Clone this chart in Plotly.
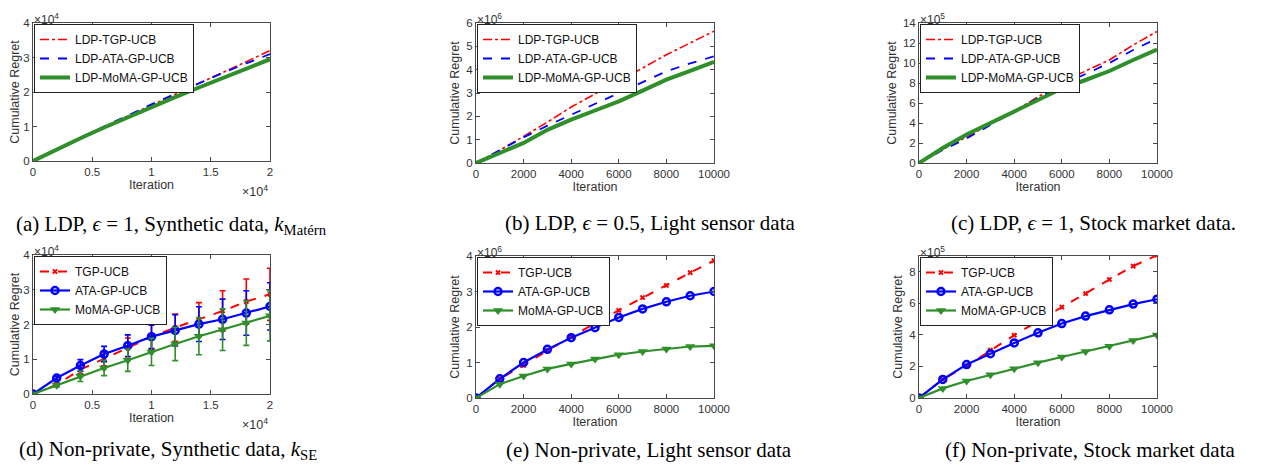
import plotly.graph_objects as go

# page body adds an 8px margin; figure is sized so it fits the 1270x470 window
OFF = 8
W, H = 1270 - 2 * OFF, 470 - 2 * OFF

# ---------------- data ----------------
iter_syn = [0, 2000, 4000, 6000, 8000, 10000, 12000, 14000, 16000, 18000, 20000]
iter_real = [0, 1000, 2000, 3000, 4000, 5000, 6000, 7000, 8000, 9000, 10000]

# (a) LDP, synthetic (x1e4)
a_tgp = [0, 0.34, 0.67, 0.99, 1.31, 1.63, 1.94, 2.25, 2.56, 2.87, 3.20]
a_ata = [0, 0.345, 0.68, 1.00, 1.325, 1.64, 1.95, 2.26, 2.55, 2.83, 3.10]
a_moma = [0, 0.34, 0.66, 0.97, 1.27, 1.56, 1.85, 2.13, 2.41, 2.68, 2.95]

# (b) LDP, light sensor (x1e6)
b_tgp = [0, 0.55, 1.14, 1.75, 2.40, 2.95, 3.50, 4.07, 4.64, 5.15, 5.65]
b_ata = [0, 0.55, 1.10, 1.60, 2.07, 2.55, 3.00, 3.47, 3.93, 4.27, 4.57]
b_moma = [0, 0.45, 0.86, 1.42, 1.86, 2.25, 2.64, 3.10, 3.57, 3.95, 4.33]

# (c) LDP, stock market (x1e5)
c_tgp = [0, 1.35, 2.60, 3.90, 5.20, 6.60, 8.05, 9.20, 10.30, 11.80, 13.15]
c_ata = [0, 1.30, 2.45, 3.80, 5.20, 6.50, 7.80, 8.90, 10.00, 11.30, 12.45]
c_moma = [0, 1.50, 2.85, 4.00, 5.20, 6.40, 7.45, 8.30, 9.20, 10.30, 11.35]

# (d) Non-private, synthetic (x1e4) with error bars
d_tgp = [0, 0.27, 0.70, 1.01, 1.32, 1.64, 1.91, 2.15, 2.39, 2.66, 2.87]
d_tgp_err = [0, 0.05, 0.12, 0.20, 0.29, 0.35, 0.39, 0.48, 0.58, 0.65, 0.75]
d_ata = [0, 0.46, 0.82, 1.15, 1.39, 1.65, 1.83, 2.01, 2.15, 2.33, 2.52]
d_ata_err = [0, 0.05, 0.17, 0.22, 0.31, 0.34, 0.45, 0.50, 0.58, 0.64, 0.68]
d_moma = [0, 0.25, 0.51, 0.75, 0.97, 1.21, 1.44, 1.66, 1.85, 2.04, 2.25]
d_moma_err = [0, 0.05, 0.15, 0.22, 0.32, 0.39, 0.48, 0.53, 0.60, 0.64, 0.72]

# (e) Non-private, light sensor (x1e6)
e_tgp = [0, 0.54, 0.92, 1.34, 1.72, 2.11, 2.47, 2.83, 3.17, 3.53, 3.87]
e_ata = [0, 0.54, 1.00, 1.37, 1.70, 1.98, 2.27, 2.51, 2.71, 2.88, 3.00]
e_moma = [0, 0.39, 0.62, 0.82, 0.96, 1.10, 1.22, 1.31, 1.38, 1.45, 1.47]

# (f) Non-private, stock market (x1e5)
f_tgp = [0, 1.18, 2.03, 3.03, 3.98, 4.87, 5.76, 6.62, 7.51, 8.36, 9.05]
f_ata = [0, 1.18, 2.12, 2.81, 3.49, 4.13, 4.72, 5.19, 5.59, 5.95, 6.26]
f_moma = [0, 0.61, 1.08, 1.48, 1.86, 2.24, 2.60, 2.94, 3.28, 3.64, 4.00]

ldp_names = ["LDP-TGP-UCB", "LDP-ATA-GP-UCB", "LDP-MoMA-GP-UCB"]
np_names = ["TGP-UCB", "ATA-GP-UCB", "MoMA-GP-UCB"]

captions = [
    "(a) LDP, <i>ϵ</i> = 1, Synthetic data, <i>k</i><sub>Matérn</sub>",
    "(b) LDP, <i>ϵ</i> = 0.5, Light sensor data",
    "(c) LDP, <i>ϵ</i> = 1, Stock market data.",
    "(d) Non-private, Synthetic data, <i>k</i><sub>SE</sub>",
    "(e) Non-private, Light sensor data",
    "(f) Non-private, Stock market data",
]

# ---------------- styling ----------------
RED = "#ff0000"
BLUE = "#0000ff"
GREEN = "#2f8f2a"
AXC = "#4a4a4a"
TXT = "#333333"
SANS = "Liberation Sans, Arial, Helvetica, sans-serif"
SERIF = "Liberation Serif, Times New Roman, serif"


def px_x(p):
    return (p - OFF) / W


def px_y(p):
    return 1 - (p - OFF) / H


# panel pixel boxes in window coordinates: (left, right, top, bottom)
boxes = [
    (33, 270, 23, 161),
    (476, 714, 23, 163),
    (919, 1157, 23, 163),
    (33, 270, 255, 394),
    (476, 714, 256, 398),
    (919, 1157, 256, 398),
]
cap_pos = [(171, 225), (650, 223), (1093, 223), (168, 450), (649, 450), (1090, 450)]

fig = go.Figure()

scale = [1e4, 1e6, 1e5, 1e4, 1e6, 1e5]
xs = [iter_syn, iter_real, iter_real, iter_syn, iter_real, iter_real]
series = [
    (a_tgp, a_ata, a_moma),
    (b_tgp, b_ata, b_moma),
    (c_tgp, c_ata, c_moma),
    (d_tgp, d_ata, d_moma),
    (e_tgp, e_ata, e_moma),
    (f_tgp, f_ata, f_moma),
]
errs = {3: (d_tgp_err, d_ata_err, d_moma_err)}

for i in range(6):
    ax = "" if i == 0 else str(i + 1)
    leg = "legend" if i == 0 else "legend" + str(i + 1)
    s = scale[i]
    tgp, ata, moma = [[v * s for v in arr] for arr in series[i]]
    if i < 3:
        names = ldp_names
        fig.add_trace(go.Scatter(x=xs[i], y=tgp, name=names[0], mode="lines",
                                 line=dict(color=RED, width=1.6, dash="dashdot"),
                                 xaxis="x" + ax, yaxis="y" + ax, legend=leg))
        fig.add_trace(go.Scatter(x=xs[i], y=ata, name=names[1], mode="lines",
                                 line=dict(color=BLUE, width=1.8, dash="dash"),
                                 xaxis="x" + ax, yaxis="y" + ax, legend=leg))
        fig.add_trace(go.Scatter(x=xs[i], y=moma, name=names[2], mode="lines",
                                 line=dict(color=GREEN, width=4),
                                 xaxis="x" + ax, yaxis="y" + ax, legend=leg))
    else:
        names = np_names
        e = errs.get(i)
        ek = [None, None, None]
        if e is not None:
            cols = [RED, BLUE, GREEN]
            ek = [dict(type="data", array=[v * s for v in e[k]], color=cols[k],
                       thickness=1.6, width=3) for k in range(3)]
        fig.add_trace(go.Scatter(x=xs[i], y=tgp, name=names[0], mode="lines+markers",
                                 line=dict(color=RED, width=2, dash="dash"),
                                 marker=dict(symbol="x", size=5, color=RED),
                                 error_y=ek[0],
                                 xaxis="x" + ax, yaxis="y" + ax, legend=leg))
        fig.add_trace(go.Scatter(x=xs[i], y=ata, name=names[1], mode="lines+markers",
                                 line=dict(color=BLUE, width=2.2),
                                 marker=dict(symbol="circle-open", size=7,
                                             line=dict(color=BLUE, width=2.5)),
                                 error_y=ek[1],
                                 xaxis="x" + ax, yaxis="y" + ax, legend=leg))
        fig.add_trace(go.Scatter(x=xs[i], y=moma, name=names[2], mode="lines+markers",
                                 line=dict(color=GREEN, width=2.2),
                                 marker=dict(symbol="triangle-down", size=9, color=GREEN),
                                 error_y=ek[2],
                                 xaxis="x" + ax, yaxis="y" + ax, legend=leg))

# axis settings
xranges = [20000, 10000, 10000, 20000, 10000, 10000]
yranges = [4e4, 6e6, 14e5, 4e4, 4e6, 9e5]
ytick_units = [
    [0, 1, 2, 3, 4],
    [0, 1, 2, 3, 4, 5, 6],
    [0, 2, 4, 6, 8, 10, 12, 14],
    [0, 1, 2, 3, 4],
    [0, 1, 2, 3, 4],
    [0, 2, 4, 6, 8],
]
exps = ["4", "6", "5", "4", "6", "5"]
syn_xt = [0, 0.5, 1, 1.5, 2]
real_xt = [0, 2000, 4000, 6000, 8000, 10000]

layout = dict(width=W, height=H, margin=dict(l=0, r=0, t=0, b=0, autoexpand=False),
              paper_bgcolor="white", plot_bgcolor="white",
              font=dict(family=SANS, color=TXT), annotations=[])

for i in range(6):
    L, R, T, B = boxes[i]
    ax = "" if i == 0 else str(i + 1)
    s = scale[i]
    if xranges[i] == 20000:
        xtv = [v * 1e4 for v in syn_xt]
        xtt = [("%g" % v) for v in syn_xt]
    else:
        xtv = real_xt
        xtt = [str(v) for v in real_xt]
    common = dict(showgrid=False, zeroline=False, showline=True, linecolor=AXC,
                  linewidth=1, mirror="ticks", ticks="inside", ticklen=4,
                  tickcolor=AXC, tickwidth=1, automargin=False,
                  tickfont=dict(size=11.5, color=TXT, family=SANS))
    layout["xaxis" + ax] = dict(common, domain=[px_x(L), px_x(R)], range=[0, xranges[i]],
                                tickmode="array", tickvals=xtv, ticktext=xtt,
                                anchor="y" + ax,
                                title=dict(text="Iteration", font=dict(size=12.5, color=TXT),
                                           standoff=1))
    ytv = [v * s for v in ytick_units[i]]
    layout["yaxis" + ax] = dict(common, domain=[px_y(B), px_y(T)], range=[0, yranges[i]],
                                tickmode="array", tickvals=ytv,
                                ticktext=[str(v) for v in ytick_units[i]],
                                anchor="x" + ax,
                                title=dict(text="Cumulative Regret", font=dict(size=12.5, color=TXT),
                                           standoff=3))
    leg = "legend" if i == 0 else "legend" + str(i + 1)
    layout[leg] = dict(x=px_x(L + 1), y=px_y(T + 1), xanchor="left", yanchor="top",
                       xref="paper", yref="paper",
                       bgcolor="white", bordercolor="#222222", borderwidth=1,
                       font=dict(size=12, family=SANS, color="#111111"),
                       itemwidth=30, tracegroupgap=0)
    # exponent labels
    layout["annotations"].append(dict(text="×10<sup>%s</sup>" % exps[i], showarrow=False,
                                      xref="x" + ax + " domain", yref="y" + ax + " domain",
                                      x=0, y=1, xanchor="left", yanchor="bottom", yshift=-5,
                                      borderpad=0,
                                      font=dict(size=12, color=TXT, family=SANS)))
    if xranges[i] == 20000:
        layout["annotations"].append(dict(text="×10<sup>4</sup>", showarrow=False,
                                          xref="x" + ax + " domain", yref="y" + ax + " domain",
                                          x=1, y=0, xanchor="right", yanchor="top", yshift=-20,
                                          font=dict(size=12.5, color=TXT, family=SANS)))
    cx, cy = cap_pos[i]
    layout["annotations"].append(dict(text=captions[i], showarrow=False, xref="paper",
                                      yref="paper", x=px_x(cx), y=px_y(cy),
                                      xanchor="center", yanchor="middle",
                                      font=dict(size=21, color="black", family=SERIF)))

fig.update_layout(**layout)
fig.write_html("out.html")
